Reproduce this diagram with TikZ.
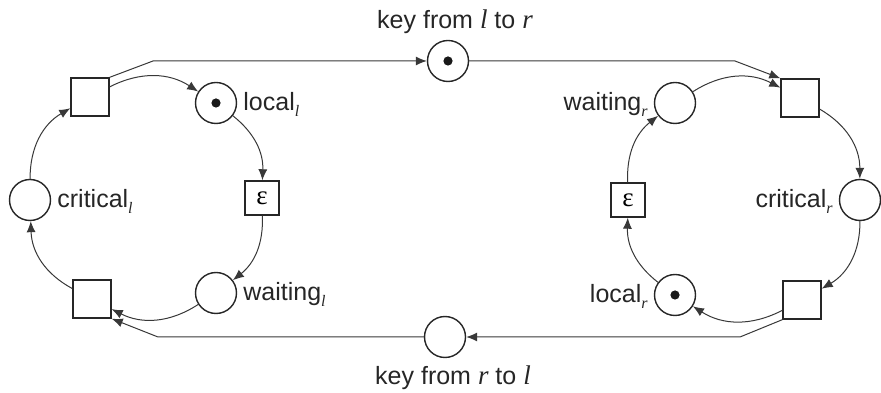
\documentclass[tikz,border=0pt]{standalone}
\usepackage{fontspec}
\setmainfont{Liberation Sans}
\newfontfamily\seriffam{Liberation Serif}
\usetikzlibrary{arrows.meta}
% italic variable names and their subscript form
\newcommand\varname[1]{{\seriffam\itshape\fontsize{27}{29}\selectfont #1}}
\newcommand\subvar[1]{\raisebox{-0.45ex}{\seriffam\itshape\fontsize{16}{16}\selectfont #1}}

\begin{document}
\begin{tikzpicture}[x=1pt,y=1pt,
  every node/.style={font=\fontsize{25}{29}\selectfont},
  place/.style={circle, draw=black!85, line width=1.4pt, minimum size=41pt, inner sep=0pt},
  trans/.style={rectangle, draw=black!85, line width=1.4pt, minimum size=38pt, inner sep=0pt},
  epstrans/.style={trans, minimum size=34pt},
  flow/.style={draw=black!78, line width=1pt, -{Latex[length=11pt,width=9pt]}},
  lab/.style={text=black!85, inner sep=0pt}
]
\useasboundingbox (0,0) rectangle (881,393);

% left process
\node[trans] (TL) at (90,296) {};
\node[place] (localL) at (216,290) {};
\node[epstrans] (epsL) at (262,195) {\seriffam\fontsize{27}{27}\selectfont ε};
\node[place] (waitL) at (216,100) {};
\node[trans] (BL) at (92,94) {};
\node[place] (critL) at (30,193) {};

% right process
\node[place] (waitR) at (675,290) {};
\node[trans] (TR) at (800,295) {};
\node[place] (critR) at (860,193) {};
\node[trans] (BR) at (802,93) {};
\node[place] (localR) at (675,98) {};
\node[epstrans] (epsR) at (628,193) {\seriffam\fontsize{27}{27}\selectfont ε};

% key places
\node[place] (keyLR) at (448,332) {};
\node[place] (keyRL) at (445,56) {};

% tokens
\fill[black!90] (localL) circle (4.6);
\fill[black!90] (localR) circle (4.6);
\fill[black!90] (keyLR) circle (4.6);

% labels
\node[lab, anchor=west] (labLocalL) at ([xshift=6pt,yshift=-1pt]localL.east) {local\subvar{l}};
\node[lab, anchor=west] (labCritL) at ([xshift=6pt,yshift=-1pt]critL.east) {critical\subvar{l}};
\node[lab, anchor=west] (labWaitL) at ([xshift=6pt,yshift=-1pt]waitL.east) {waiting\subvar{l}};
\node[lab, anchor=east] (labWaitR) at ([xshift=-6pt,yshift=-1pt]waitR.west) {waiting\subvar{r}};
\node[lab, anchor=east] (labCritR) at ([xshift=-6pt,yshift=-1pt]critR.west) {critical\subvar{r}};
\node[lab, anchor=east] (labLocalR) at ([xshift=-6pt,yshift=-1pt]localR.west) {local\subvar{r}};
\node[lab] (labKeyLR) at (455,371) {key from \varname{l} to \varname{r}};
\node[lab] (labKeyRL) at (453,15) {key from \varname{r} to \varname{l}};

% left cycle
\draw[flow] (TL) to[bend left=30] (localL);
\draw[flow] (localL) to[bend left=27] (epsL);
\draw[flow] (epsL) to[bend left=27] (waitL);
\draw[flow] (waitL) to[bend left=30] (BL);
\draw[flow] (BL) to[bend left=30] (critL);
\draw[flow] (critL) to[bend left=30] (TL);

% right cycle
\draw[flow] (waitR) to[bend left=30] (TR);
\draw[flow] (TR) to[bend left=30] (critR);
\draw[flow] (critR) to[bend left=30] (BR);
\draw[flow] (BR) to[bend left=30] (localR);
\draw[flow] (localR) to[bend left=27] (epsR);
\draw[flow] (epsR) to[bend left=27] (waitR);

% key passing
\coordinate (topBendL) at (153,332);
\coordinate (topBendR) at (735,332);
\coordinate (botBendR) at (740,56);
\coordinate (botBendL) at (158,56);
\draw[flow] (TL.north east) -- (topBendL) -- (keyLR);
\draw[flow] (keyLR) -- (topBendR) -- (TR.north west);
\draw[flow] (BR.south west) -- (botBendR) -- (keyRL);
\draw[flow] (keyRL) -- (botBendL) -- (BL.south east);
\end{tikzpicture}
\end{document}
